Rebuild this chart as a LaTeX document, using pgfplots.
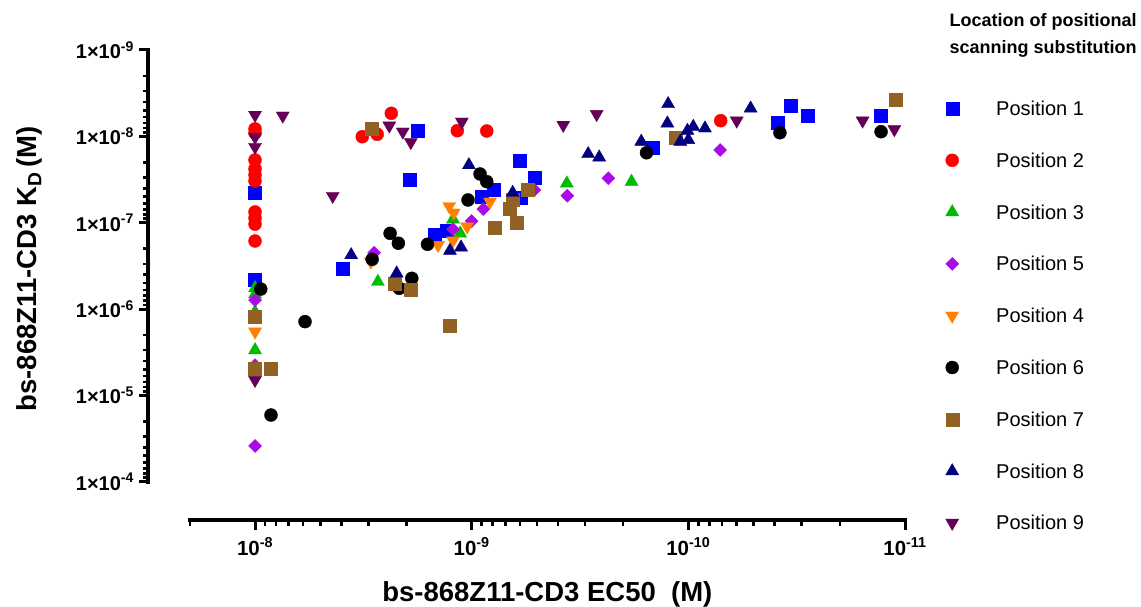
\documentclass[border=0pt]{standalone}
\usepackage{fontspec}
\setmainfont{Liberation Sans}
\usepackage{pgfplots}
\pgfplotsset{compat=1.18}
\definecolor{pblue}{RGB}{0,0,255}
\definecolor{pred}{RGB}{255,0,0}
\definecolor{pgreen}{RGB}{0,187,0}
\definecolor{ppurple}{RGB}{170,10,230}
\definecolor{porange}{RGB}{255,128,0}
\definecolor{pbrown}{RGB}{145,98,35}
\definecolor{pnavy}{RGB}{0,0,128}
\definecolor{pmaroon}{RGB}{100,0,85}
\pgfplotsset{
  prismaxis/.style={
    scale only axis,
    axis line style={line width=3.8pt},
    tick align=outside,
    major tick length=9.5pt, minor tick length=6pt,
    every tick/.style={black},
    every major tick/.append style={line width=3pt},
    every minor tick/.append style={line width=2.5pt},
  }
}
\begin{document}
\begin{tikzpicture}
\useasboundingbox (0,0) rectangle (1141pt,606pt);
% x axis (detached): a flat box whose top and bottom edges coincide
\begin{axis}[prismaxis,
  at={(189.8pt,86pt)}, anchor=south west,
  width=715.2pt, height=0.1pt,
  xmode=log, x dir=reverse, xmin=1e-11, xmax=2e-8, ymin=0, ymax=1,
  ytick=\empty, xtick pos=left,
  xtick={1e-8,1e-9,1e-10,1e-11},
  minor xtick={2e-8,9e-9,8e-9,7e-9,6e-9,5e-9,4e-9,3e-9,2e-9,9e-10,8e-10,7e-10,6e-10,5e-10,4e-10,3e-10,2e-10,9e-11,8e-11,7e-11,6e-11,5e-11,4e-11,3e-11,2e-11},
  xticklabels={10\textsuperscript{-8},10\textsuperscript{-9},10\textsuperscript{-10},10\textsuperscript{-11}},
  xticklabel style={font=\bfseries\fontsize{20.5}{22}\selectfont, yshift=-4.5pt},
]
\addplot[draw=none] coordinates {(1e-9,0.5)};
\end{axis}
% y axis (detached)
\begin{axis}[prismaxis,
  at={(148pt,124.3pt)}, anchor=south west,
  width=0.1pt, height=431.7pt,
  ymode=log, y dir=reverse, ymin=1e-9, ymax=1e-4, xmin=0, xmax=1,
  xtick=\empty, ytick pos=left,
  major tick length=8.5pt, minor tick length=4.5pt,
  ytick={1e-9,1e-8,1e-7,1e-6,1e-5,1e-4},
  yticklabels={1×10\textsuperscript{-9},1×10\textsuperscript{-8},1×10\textsuperscript{-7},1×10\textsuperscript{-6},1×10\textsuperscript{-5},1×10\textsuperscript{-4}},
  yticklabel style={font=\bfseries\fontsize{20}{22}\selectfont, xshift=-2pt},
]
\addplot[draw=none] coordinates {(0.5,1e-6)};
\end{axis}
% data
\begin{axis}[
  at={(189.8pt,124.3pt)}, anchor=south west,
  scale only axis, width=715.2pt, height=431.7pt,
  xmode=log, ymode=log, x dir=reverse, y dir=reverse,
  xmin=1e-11, xmax=2e-8, ymin=1e-9, ymax=1e-4,
  hide axis, clip=false,
  legend style={at={(1.0566,0.8881)}, anchor=north west, draw=none, fill=none, inner sep=0pt,
    font=\fontsize{20}{22}\selectfont, row sep=31.8pt, column sep=37.5pt,
    nodes={anchor=center, inner sep=0pt, text height=17pt, text depth=3pt}},
  legend cell align=left,
  legend image code/.code={\draw[#1] plot coordinates {(0pt,0pt)};},
]
\addplot[only marks, mark=square*, color=pblue, mark size=6.5pt] table {
1e-8 4.50e-8
1e-8 4.61e-7
3.95e-9 3.41e-7
1.93e-9 3.15e-8
1.78e-9 8.6e-9
1.48e-9 1.38e-7
1.30e-9 1.24e-7
8.96e-10 5.0e-8
7.88e-10 4.19e-8
6.03e-10 1.92e-8
5.94e-10 5.18e-8
5.10e-10 3.01e-8
1.46e-10 1.35e-8
3.86e-11 6.95e-9
3.37e-11 4.45e-9
2.81e-11 5.77e-9
1.30e-11 5.82e-9
};
\addplot[only marks, mark=*, color=pred, mark size=6.5pt] table {
1e-8 8.2e-9
1e-8 9.15e-9
1e-8 1.88e-8
1e-8 2.39e-8
1e-8 2.8e-8
1e-8 3.29e-8
1e-8 7.52e-8
1e-8 8.83e-8
1e-8 1.04e-7
1e-8 1.63e-7
3.2e-9 1.01e-8
2.73e-9 9.47e-9
2.35e-9 5.41e-9
1.165e-9 8.6e-9
8.52e-10 8.67e-9
7.09e-11 6.59e-9
};
\addplot[only marks, mark=triangle*, color=pgreen, mark size=7.5pt] table {
1e-8 5.71e-7
1e-8 6.71e-7
1e-8 1.08e-6
1e-8 2.99e-6
1e-8 4.86e-6
2.71e-9 4.83e-7
1.22e-9 9.14e-8
1.13e-9 1.33e-7
3.64e-10 3.5e-8
1.83e-10 3.35e-8
};
\addplot[only marks, mark=square*, mark options={rotate=45}, color=ppurple, mark size=4.6pt] table {
1e-8 7.87e-7
1e-8 4.46e-6
1e-8 3.86e-5
2.82e-9 2.23e-7
1.22e-9 1.19e-7
1.0e-9 9.57e-8
8.84e-10 6.95e-8
5.14e-10 4.19e-8
3.62e-10 4.87e-8
2.34e-10 3.06e-8
7.14e-11 1.44e-8
};
\addplot[only marks, mark=triangle*, mark options={rotate=180}, color=porange, mark size=7.5pt] table {
1e-8 1.83e-6
1e-8 4.66e-6
2.92e-9 2.83e-7
1.27e-9 6.46e-8
1.21e-9 7.67e-8
1.05e-9 1.11e-7
1.43e-9 1.82e-7
1.22e-9 1.61e-7
8.23e-10 5.72e-8
};
\addplot[only marks, mark=*, color=black, mark size=6.5pt] table {
9.41e-9 5.87e-7
8.44e-9 1.69e-5
5.88e-9 1.40e-6
2.88e-9 2.66e-7
2.38e-9 1.33e-7
2.18e-9 1.73e-7
1.60e-9 1.78e-7
2.16e-9 5.76e-7
1.89e-9 4.41e-7
1.04e-9 5.46e-8
9.15e-10 2.73e-8
8.52e-10 3.35e-8
1.56e-10 1.55e-8
3.78e-11 9.08e-9
1.29e-11 8.84e-9
};
\addplot[only marks, mark=square*, color=pbrown, mark size=6.5pt] table {
1e-8 1.23e-6
1e-8 4.86e-6
8.46e-9 4.96e-6
2.88e-9 8.23e-9
2.26e-9 5.04e-7
1.91e-9 5.91e-7
1.27e-9 1.57e-6
7.80e-10 1.13e-7
6.71e-10 6.82e-8
6.47e-10 5.36e-8
6.20e-10 1.0e-7
5.54e-10 4.11e-8
1.15e-10 1.04e-8
1.11e-11 3.73e-9
};
\addplot[only marks, mark=triangle*, color=pnavy, mark size=7.5pt] table {
3.60e-9 2.37e-7
2.22e-9 3.86e-7
1.26e-9 2.11e-7
1.12e-9 1.93e-7
1.03e-9 2.15e-8
6.47e-10 4.5e-8
2.90e-10 1.60e-8
2.58e-10 1.75e-8
1.65e-10 1.15e-8
1.24e-10 4.22e-9
1.25e-10 7.07e-9
1.09e-10 1.15e-8
1.01e-10 8.6e-9
1.0e-10 1.10e-8
9.49e-11 7.73e-9
8.38e-11 8.07e-9
5.16e-11 4.74e-9
};
\addplot[only marks, mark=triangle*, mark options={rotate=180}, color=pmaroon, mark size=7.5pt] table {
1e-8 5.66e-9
1e-8 1.02e-8
1e-8 1.33e-8
1e-8 6.65e-6
7.45e-9 5.77e-9
4.38e-9 4.91e-8
2.40e-9 7.53e-9
2.08e-9 8.84e-9
1.91e-9 1.17e-8
1.11e-9 6.77e-9
3.78e-10 7.39e-9
2.65e-10 5.54e-9
5.98e-11 6.59e-9
1.57e-11 6.59e-9
1.12e-11 8.29e-9
};
\legend{Position 1,Position 2,Position 3,Position 5,Position 4,Position 6,Position 7,Position 8,Position 9}
\end{axis}
\node[anchor=base, font=\bfseries\fontsize{27.5}{30}\selectfont] at (547.4pt,5pt) {bs-868Z11-CD3 EC50~~(M)};
\node[anchor=base, rotate=90, font=\bfseries\fontsize{27.5}{30}\selectfont] at (36.7pt,337pt) {bs-868Z11-CD3 K\textsubscript{D}\,(M)};
\node[align=center, font=\bfseries\fontsize{18}{27.7}\selectfont] at (1043pt,570.5pt) {Location of positional\\scanning substitution};
\end{tikzpicture}
\end{document}
